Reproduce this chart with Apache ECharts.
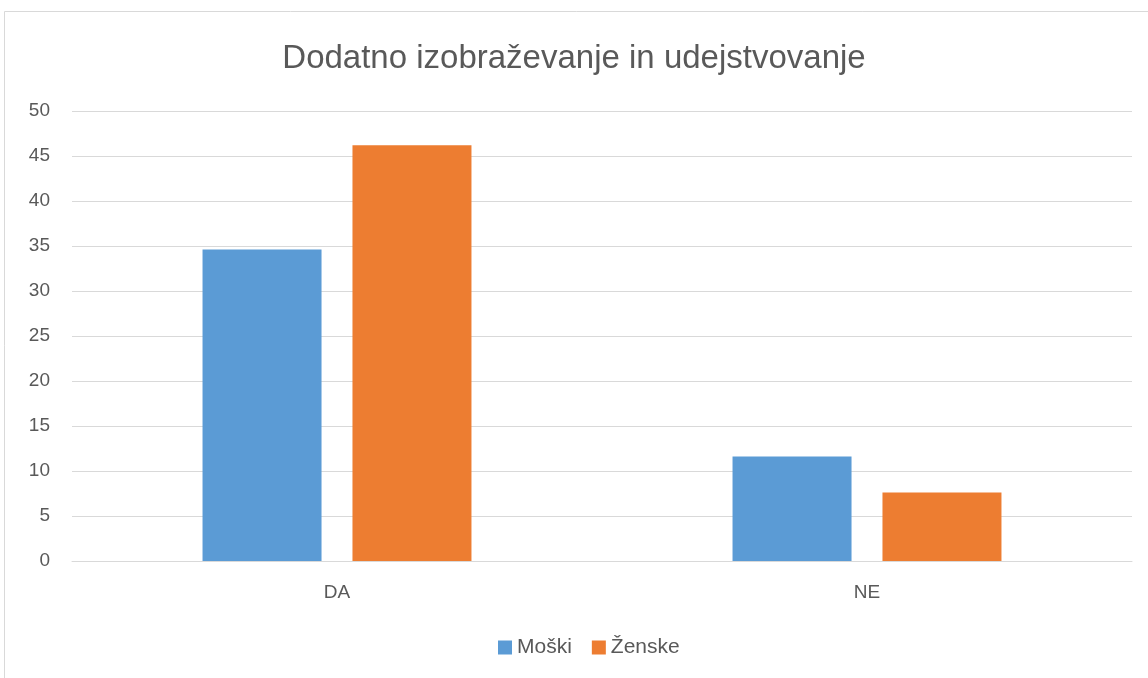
<!DOCTYPE html>
<html><head><meta charset="utf-8">
<script src="https://cdn.jsdelivr.net/npm/echarts@6/dist/echarts.min.js"></script>
<style>html,body{margin:0;padding:0;background:#fff}#c{width:1148px;height:678px}</style>
</head><body><div id="c"></div>
<script>
const categories = ['DA', 'NE'];
const moski = [34.6, 11.6];
const zenske = [46.2, 7.6];
const seriesNames = ['Moški', 'Ženske'];
const titleText = 'Dodatno izobraževanje in udejstvovanje';

const chart = echarts.init(document.getElementById('c'), null, {renderer: 'canvas'});
const font = '"Liberation Sans", Arial, sans-serif';
chart.setOption({
  animation: false,
  backgroundColor: '#fff',
  graphic: [{
    type: 'rect', shape: {x: 4.5, y: 11.5, width: 1160, height: 700},
    style: {fill: 'none', stroke: '#d9d9d9', lineWidth: 1}, silent: true
  }],
  title: {
    text: titleText, left: 'center', top: 37,
    textStyle: {fontFamily: font, fontSize: 33, fontWeight: 'normal', color: '#595959'}
  },
  legend: {
    data: seriesNames, bottom: 15, left: 493, itemWidth: 14, itemHeight: 14,
    itemGap: 20, icon: 'rect',
    textStyle: {fontFamily: font, fontSize: 21, color: '#595959'}
  },
  grid: {left: 72, right: 16, top: 111, bottom: 117, containLabel: false},
  xAxis: {
    type: 'category', data: categories,
    axisLine: {lineStyle: {color: '#d9d9d9'}}, axisTick: {show: false},
    axisLabel: {fontFamily: font, fontSize: 19, color: '#595959', margin: 22}
  },
  yAxis: {
    type: 'value', min: 0, max: 50, interval: 5,
    axisLine: {show: false}, axisTick: {show: false},
    splitLine: {lineStyle: {color: '#d9d9d9', width: 1}},
    axisLabel: {fontFamily: font, fontSize: 19, color: '#595959', margin: 22}
  },
  series: [
    {name: seriesNames[0], type: 'bar', data: moski, barWidth: 119, barGap: '26%',
     itemStyle: {color: '#5b9bd5'}},
    {name: seriesNames[1], type: 'bar', data: zenske, barWidth: 119,
     itemStyle: {color: '#ed7d31'}}
  ]
});
</script></body></html>
